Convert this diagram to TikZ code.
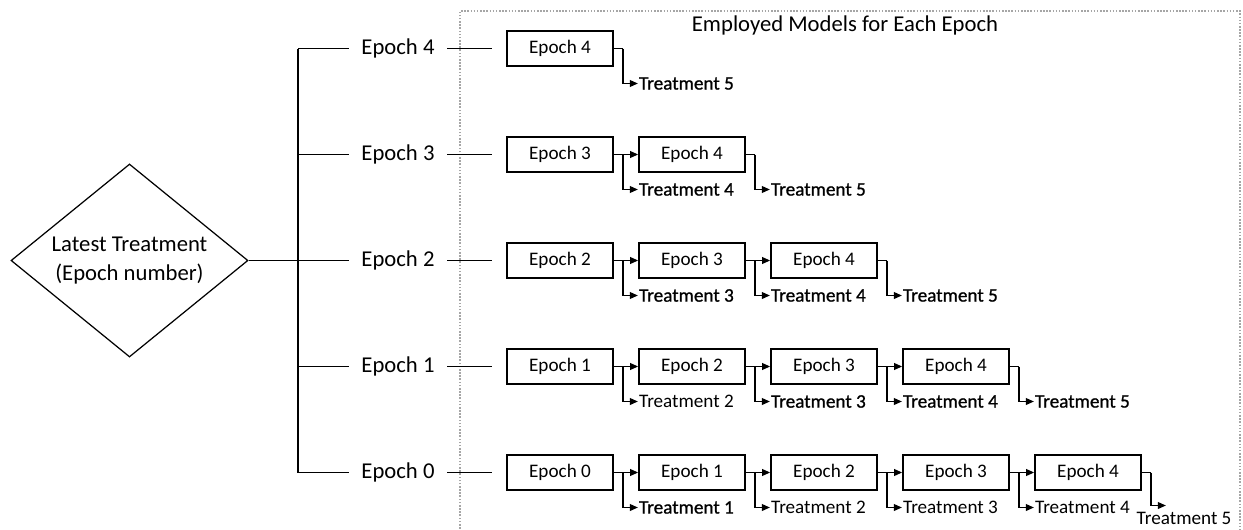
\documentclass[tikz,border=0pt]{standalone}
\usepackage{fontspec}
\setmainfont{Carlito}
\newfontfamily\heavyfont{Carlito}[FakeBold=1]
\usetikzlibrary{shapes.geometric,arrows.meta}

\tikzset{
  epochbox/.style={draw, line width=1pt, minimum width=2.12cm, minimum height=0.7cm, inner sep=0pt, font=\fontsize{10.9}{13}\selectfont},
  treat/.style={anchor=west, inner sep=0.5pt, font=\fontsize{10.9}{13}\selectfont},
  treatdark/.style={treat, font=\heavyfont\fontsize{10.9}{13}\selectfont},
  branchlbl/.style={inner xsep=7pt, font=\fontsize{12.9}{16}\selectfont},
  link/.style={line width=0.8pt},
  feed/.style={link, -{Triangle[length=4.5pt,width=3.8pt]}},
}

\begin{document}
\begin{tikzpicture}
\useasboundingbox (0,0) rectangle (24.86,10.58);

% frame of the employed models
\draw[gray!70, line width=0.8pt, dash pattern=on 0.9pt off 0.9pt] (9.2,-0.5) rectangle (24.8,10.36);
\node[font=\fontsize{12.9}{16}\selectfont] (title) at (16.9,10.08) {Employed Models for Each Epoch};

\node[draw, diamond, aspect=1.23, minimum width=4.74cm, minimum height=3.86cm, inner sep=0pt, line width=0.7pt, align=center, font=\fontsize{12.9}{16}\selectfont] (latest) at (2.59,5.37) {Latest Treatment\\(Epoch number)};

\coordinate (s4) at (5.96,9.61);
\coordinate (s3) at (5.96,7.49);
\coordinate (s2) at (5.96,5.37);
\coordinate (s1) at (5.96,3.25);
\coordinate (s0) at (5.96,1.13);

\node[branchlbl] (e4) at (7.96,9.61) {Epoch 4};
\node[branchlbl] (e3) at (7.96,7.49) {Epoch 3};
\node[branchlbl] (e2) at (7.96,5.37) {Epoch 2};
\node[branchlbl] (e1) at (7.96,3.25) {Epoch 1};
\node[branchlbl] (e0) at (7.96,1.13) {Epoch 0};

\draw[link] (latest.east) -- (s2);
\draw[link] (s4) -- (s0);
\draw[link] (s4) -- (e4);
\draw[link] (s3) -- (e3);
\draw[link] (s2) -- (e2);
\draw[link] (s1) -- (e1);
\draw[link] (s0) -- (e0);

% row 4
\node[epochbox] (r4b4) at (11.2,9.61) {Epoch 4};

% row 3
\node[epochbox] (r3b3) at (11.2,7.49) {Epoch 3};
\node[epochbox] (r3b4) at (13.84,7.49) {Epoch 4};

% row 2
\node[epochbox] (r2b2) at (11.2,5.37) {Epoch 2};
\node[epochbox] (r2b3) at (13.84,5.37) {Epoch 3};
\node[epochbox] (r2b4) at (16.48,5.37) {Epoch 4};

% row 1
\node[epochbox] (r1b1) at (11.2,3.25) {Epoch 1};
\node[epochbox] (r1b2) at (13.84,3.25) {Epoch 2};
\node[epochbox] (r1b3) at (16.48,3.25) {Epoch 3};
\node[epochbox] (r1b4) at (19.12,3.25) {Epoch 4};

% row 0
\node[epochbox] (r0b0) at (11.2,1.13) {Epoch 0};
\node[epochbox] (r0b1) at (13.84,1.13) {Epoch 1};
\node[epochbox] (r0b2) at (16.48,1.13) {Epoch 2};
\node[epochbox] (r0b3) at (19.12,1.13) {Epoch 3};
\node[epochbox] (r0b4) at (21.76,1.13) {Epoch 4};

\draw[link] (e4) -- ([xshift=-0.28cm]r4b4.west);
\draw[link] (e3) -- ([xshift=-0.28cm]r3b3.west);
\draw[link] (e2) -- ([xshift=-0.28cm]r2b2.west);
\draw[link] (e1) -- ([xshift=-0.28cm]r1b1.west);
\draw[link] (e0) -- ([xshift=-0.28cm]r0b0.west);

% junctions
\coordinate (r4j4) at ([xshift=0.18cm]r4b4.east);
\coordinate (r3j3) at ([xshift=0.18cm]r3b3.east);
\coordinate (r3j4) at ([xshift=0.18cm]r3b4.east);
\coordinate (r2j2) at ([xshift=0.18cm]r2b2.east);
\coordinate (r2j3) at ([xshift=0.18cm]r2b3.east);
\coordinate (r2j4) at ([xshift=0.18cm]r2b4.east);
\coordinate (r1j1) at ([xshift=0.18cm]r1b1.east);
\coordinate (r1j2) at ([xshift=0.18cm]r1b2.east);
\coordinate (r1j3) at ([xshift=0.18cm]r1b3.east);
\coordinate (r1j4) at ([xshift=0.18cm]r1b4.east);
\coordinate (r0j0) at ([xshift=0.18cm]r0b0.east);
\coordinate (r0j1) at ([xshift=0.18cm]r0b1.east);
\coordinate (r0j2) at ([xshift=0.18cm]r0b2.east);
\coordinate (r0j3) at ([xshift=0.18cm]r0b3.east);
\coordinate (r0j4) at ([xshift=0.18cm]r0b4.east);

% treatments
\node[treatdark] (r4t5) at ([shift={(0.3,-0.7)}]r4j4) {Treatment 5};
\node[treatdark] (r3t4) at ([shift={(0.3,-0.7)}]r3j3) {Treatment 4};
\node[treatdark] (r3t5) at ([shift={(0.3,-0.7)}]r3j4) {Treatment 5};
\node[treatdark] (r2t3) at ([shift={(0.3,-0.7)}]r2j2) {Treatment 3};
\node[treatdark] (r2t4) at ([shift={(0.3,-0.7)}]r2j3) {Treatment 4};
\node[treatdark] (r2t5) at ([shift={(0.3,-0.7)}]r2j4) {Treatment 5};
\node[treat] (r1t2) at ([shift={(0.3,-0.7)}]r1j1) {Treatment 2};
\node[treatdark] (r1t3) at ([shift={(0.3,-0.7)}]r1j2) {Treatment 3};
\node[treatdark] (r1t4) at ([shift={(0.3,-0.7)}]r1j3) {Treatment 4};
\node[treatdark] (r1t5) at ([shift={(0.3,-0.7)}]r1j4) {Treatment 5};
\node[treatdark] (r0t1) at ([shift={(0.3,-0.7)}]r0j0) {Treatment 1};
\node[treat] (r0t2) at ([shift={(0.3,-0.7)}]r0j1) {Treatment 2};
\node[treat] (r0t3) at ([shift={(0.3,-0.7)}]r0j2) {Treatment 3};
\node[treat] (r0t4) at ([shift={(0.3,-0.7)}]r0j3) {Treatment 4};
\node[treat] (r0t5) at (22.71,0.22) {Treatment 5};
\coordinate (r0t5tip) at ([shift={(0.3,-0.66)}]r0j4);

% box to box
\draw[feed] (r3b3) -- (r3b4);
\draw[feed] (r2b2) -- (r2b3);
\draw[feed] (r2b3) -- (r2b4);
\draw[feed] (r1b1) -- (r1b2);
\draw[feed] (r1b2) -- (r1b3);
\draw[feed] (r1b3) -- (r1b4);
\draw[feed] (r0b0) -- (r0b1);
\draw[feed] (r0b1) -- (r0b2);
\draw[feed] (r0b2) -- (r0b3);
\draw[feed] (r0b3) -- (r0b4);

% last boxes
\draw[link] (r4b4) -- (r4j4);
\draw[link] (r3b4) -- (r3j4);
\draw[link] (r2b4) -- (r2j4);
\draw[link] (r1b4) -- (r1j4);
\draw[link] (r0b4) -- (r0j4);

% box to treatment
\draw[feed] (r4j4) |- (r4t5);
\draw[feed] (r3j3) |- (r3t4);
\draw[feed] (r3j4) |- (r3t5);
\draw[feed] (r2j2) |- (r2t3);
\draw[feed] (r2j3) |- (r2t4);
\draw[feed] (r2j4) |- (r2t5);
\draw[feed] (r1j1) |- (r1t2);
\draw[feed] (r1j2) |- (r1t3);
\draw[feed] (r1j3) |- (r1t4);
\draw[feed] (r1j4) |- (r1t5);
\draw[feed] (r0j0) |- (r0t1);
\draw[feed] (r0j1) |- (r0t2);
\draw[feed] (r0j2) |- (r0t3);
\draw[feed] (r0j3) |- (r0t4);
\draw[feed] (r0j4) |- (r0t5tip);
\end{tikzpicture}
\end{document}
